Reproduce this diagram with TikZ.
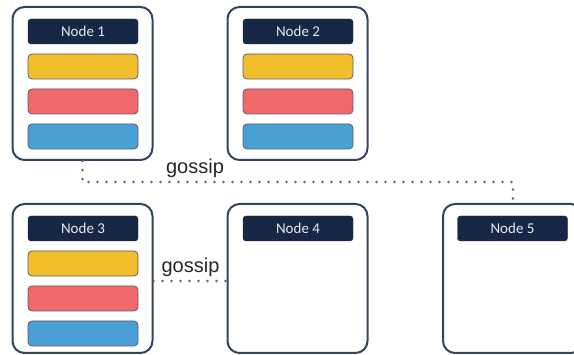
\documentclass[tikz,border=0pt]{standalone}
\usepackage{fontspec}
\setmainfont{Liberation Sans}
\newfontfamily\hdrfont{Carlito}
\definecolor{boxline}{HTML}{34435F}
\definecolor{hdr}{HTML}{172746}
\definecolor{hdrtext}{HTML}{E6EAF0}
\definecolor{barline}{HTML}{5A5E6E}
\definecolor{cyellow}{HTML}{F2BE2B}
\definecolor{cred}{HTML}{F1686B}
\definecolor{cblue}{HTML}{4AA0D4}
\definecolor{dotgray}{HTML}{5E5E5E}
\begin{document}
\begin{tikzpicture}[x=1pt,y=-1pt,
  server/.style={draw=boxline, line width=2pt, rounded corners=12pt, fill=white,
    minimum width=140pt, inner sep=0pt},
  header/.style={fill=hdr, draw=hdr, rounded corners=3pt, minimum width=110pt,
    minimum height=25pt, inner sep=0pt, text=hdrtext,
    font=\hdrfont\fontsize{15}{15}\selectfont},
  bar/.style={draw=barline, line width=0.8pt, rounded corners=4pt, minimum width=110pt,
    minimum height=25pt, inner sep=0pt},
  gossipline/.style={draw=dotgray, line width=2.6pt, dash pattern=on 0pt off 9pt,
    line cap=round},
  gossiplabel/.style={font=\fontsize{20}{20}\selectfont, text=black!85, inner sep=0pt}]
\useasboundingbox (0,0) rectangle (574,355);

% server boxes
\node[server, minimum height=153pt] (n1) at (82.5,83.5) {};
\node[server, minimum height=153pt] (n2) at (297.5,83.5) {};
\node[server, minimum height=149pt] (n3) at (82.5,278.5) {};
\node[server, minimum height=149pt] (n4) at (297.5,278.5) {};
\node[server, minimum height=149pt] (n5) at (513,278.5) {};

% gossip links
\draw[gossipline] (n1.south) -- ++(0,21) -| (n5.north);
\draw[gossipline] ([yshift=-2.5pt]n3.east) -- ([yshift=-2.5pt]n4.west);

\node[gossiplabel] (g1) at (195,168) {gossip};
\node[gossiplabel] (g2) at (190.5,267) {gossip};

% headers
\node[header] (h1) at (83,31.5) {Node 1};
\node[header] (h2) at (298,31.5) {Node 2};
\node[header] (h3) at (83,228.5) {Node 3};
\node[header] (h4) at (298,228.5) {Node 4};
\node[header] (h5) at (512.5,228.5) {Node 5};

% data bars of nodes 1, 2 and 3
\foreach \h in {h1,h2,h3}{
  \node[bar, fill=cyellow] (\h y) at ([yshift=-35pt]\h.center) {};
  \node[bar, fill=cred]    (\h r) at ([yshift=-70pt]\h.center) {};
  \node[bar, fill=cblue]   (\h b) at ([yshift=-105pt]\h.center) {};
}
\end{tikzpicture}
\end{document}
